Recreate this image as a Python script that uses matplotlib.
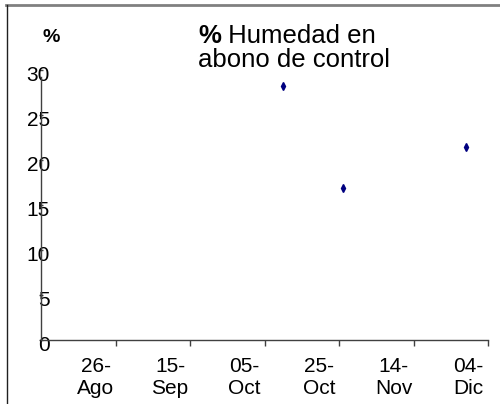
import datetime as dt
import matplotlib
matplotlib.use("Agg")
import matplotlib.pyplot as plt
import matplotlib.transforms as mtransforms
from matplotlib.lines import Line2D

plt.rcParams['font.family'] = ['Liberation Sans', 'DejaVu Sans']

# Data
fechas = [dt.date(2003, 10, 10), dt.date(2003, 10, 26), dt.date(2003, 11, 28)]
humedad = [28.2, 16.9, 21.5]

tick_fechas = [dt.date(2003, 8, 26), dt.date(2003, 9, 15), dt.date(2003, 10, 5),
               dt.date(2003, 10, 25), dt.date(2003, 11, 14), dt.date(2003, 12, 4)]
tick_labels = ['26-\nAgo', '15-\nSep', '05-\nOct', '25-\nOct', '14-\nNov', '04-\nDic']
y_ticks = [0, 5, 10, 15, 20, 25, 30]

fig = plt.figure(figsize=(5.0, 4.04), dpi=100)
ax = fig.add_axes([0.082, 0.1584, 0.894, 0.6683])

ax.plot(fechas, humedad, linestyle='none', marker='d', markersize=4,
        color='#000080')

ax.set_xlim(dt.date(2003, 8, 6), dt.date(2003, 12, 4))
ax.set_ylim(0, 30)
ax.set_xticks(tick_fechas)
ax.set_xticklabels(tick_labels, fontsize=15)
ax.set_yticks(y_ticks)
ax.set_yticklabels([str(v) for v in y_ticks], fontsize=15)

for s in ['top', 'right']:
    ax.spines[s].set_visible(False)
for s in ['left', 'bottom']:
    ax.spines[s].set_color('#404040')
    ax.spines[s].set_linewidth(1)
ax.spines['left'].set_bounds(0, 29.2)

ax.tick_params(axis='x', direction='out', length=4, width=1, color='#404040', pad=8)
ax.tick_params(axis='y', direction='inout', length=3, width=1, color='#404040', pad=-8)

# tick labels sit a bit off their ticks in the original
dx = mtransforms.ScaledTranslation(-20 / 100, 0, fig.dpi_scale_trans)
for lab in ax.get_xticklabels():
    lab.set_transform(lab.get_transform() + dx)
dy = mtransforms.ScaledTranslation(0, -3 / 100, fig.dpi_scale_trans)
for lab in ax.get_yticklabels():
    lab.set_transform(lab.get_transform() + dy)

# '%' axis label
fig.text(51 / 500, 1 - 38 / 404, '%', fontsize=14, fontweight='bold',
         ha='center', va='center')

# title with bold '%'
t1 = fig.text(198 / 500, 1 - 43 / 404, '%', fontsize=18.5, fontweight='bold',
              ha='left', va='baseline')
ax.annotate(' Humedad en', xy=(1, 0), xycoords=t1, fontsize=18.5,
            ha='left', va='bottom', annotation_clip=False)
fig.text(198 / 500, 1 - 67 / 404, 'abono de control', fontsize=18.5,
         ha='left', va='baseline')

# frame remains of the original chart area
fig.add_artist(Line2D([6 / 500, 1], [1 - 5 / 404, 1 - 5 / 404],
                      transform=fig.transFigure, color='#808080', linewidth=2))
fig.add_artist(Line2D([7 / 500, 7 / 500], [0, 1 - 5 / 404],
                      transform=fig.transFigure, color='#202020', linewidth=1))

fig.savefig('out.png', dpi=100)
